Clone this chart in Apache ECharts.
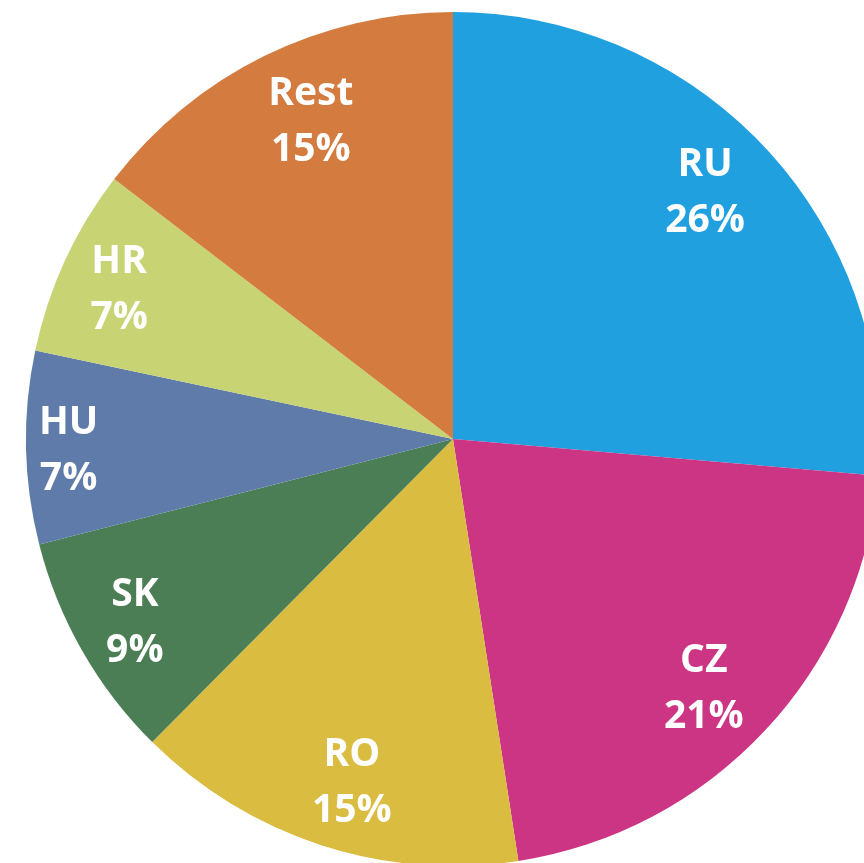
<!DOCTYPE html>
<html>
<head>
<meta charset="utf-8">
<style>html,body{margin:0;padding:0;background:#fff;}#c{width:864px;height:863px;}</style>
<script src="https://cdn.jsdelivr.net/npm/echarts@6/dist/echarts.min.js"></script>
</head>
<body>
<div id="c"></div>
<script>
const categories = ['RU', 'CZ', 'RO', 'SK', 'HU', 'HR', 'Rest'];
const values = [26.4, 21.2, 14.9, 8.6, 7.3, 7.1, 14.6];
const colors = ['#21A0E0', '#CC3584', '#D9BC40', '#4B7E55', '#5F7BA9', '#C8D373', '#D47B3F'];
const labelOffsets = [[-18, 2], [-17, 0], [12, -5], [0, 2], [-18, 4], [-1, 4], [20, 12]];

const data = categories.map((c, i) => ({ name: c, value: values[i], itemStyle: { color: colors[i] } }));
const chart = echarts.init(document.getElementById('c'), null, { renderer: 'canvas' });
chart.setOption({
  animation: false,
  series: [
    {
      type: 'pie',
      center: [453, 439],
      radius: [0, 427],
      startAngle: 90,
      clockwise: true,
      silent: true,
      label: { show: false },
      labelLine: { show: false },
      emphasis: { disabled: true },
      data: data
    },
    {
      type: 'pie',
      center: [453, 439],
      radius: [300, 427],
      startAngle: 90,
      clockwise: true,
      silent: true,
      itemStyle: { color: 'rgba(0,0,0,0)' },
      emphasis: { disabled: true },
      labelLine: { show: false },
      label: {
        show: true,
        position: 'inside',
        color: '#ffffff',
        fontFamily: 'Open Sans',
        fontWeight: 'bold',
        fontSize: 39,
        lineHeight: 56,
        formatter: p => p.name + '\n' + Math.round(p.percent) + '%'
      },
      data: categories.map((c, i) => ({ name: c, value: values[i], label: { offset: labelOffsets[i] } }))
    }
  ]
});
</script>
</body>
</html>
